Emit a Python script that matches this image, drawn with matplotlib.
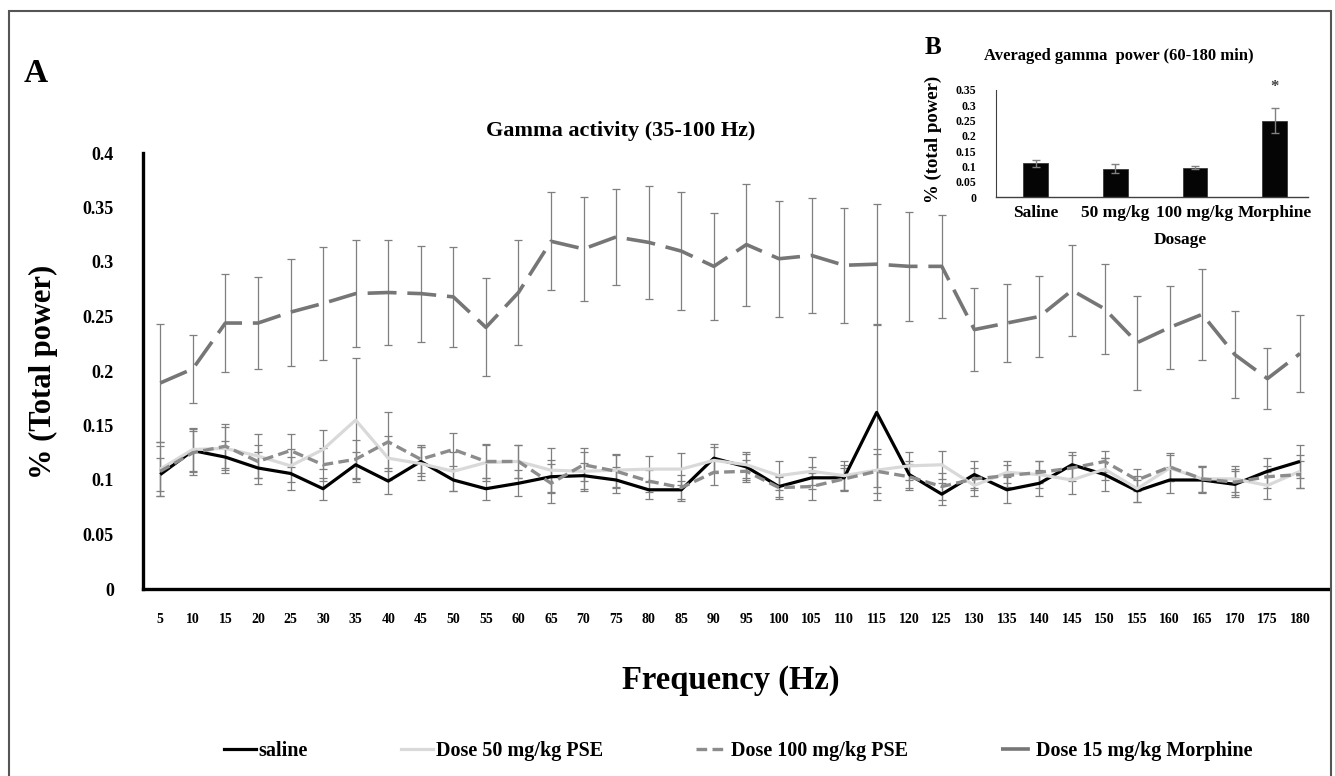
import numpy as np
import matplotlib
matplotlib.use("Agg")
import matplotlib.pyplot as plt
from matplotlib.patches import Rectangle
from matplotlib.lines import Line2D

plt.rcParams['font.family'] = ['Liberation Serif', 'DejaVu Serif']
plt.rcParams['font.weight'] = 'bold'

# gamma power per frequency bin, mean and SEM
freqs = list(range(5, 185, 5))

saline = [0.105, 0.127, 0.121, 0.111, 0.106, 0.092, 0.114, 0.099, 0.117, 0.100, 0.092, 0.097,
          0.103, 0.104, 0.100, 0.091, 0.091, 0.120, 0.112, 0.094, 0.102, 0.102, 0.162, 0.105,
          0.087, 0.105, 0.091, 0.097, 0.114, 0.105, 0.090, 0.100, 0.100, 0.096, 0.108, 0.117]
saline_err = [0.015, 0.020, 0.015, 0.015, 0.015, 0.010, 0.012, 0.012, 0.013, 0.010, 0.010, 0.012,
              0.015, 0.012, 0.012, 0.008, 0.008, 0.013, 0.012, 0.010, 0.010, 0.012, 0.080, 0.012,
              0.010, 0.012, 0.012, 0.012, 0.012, 0.015, 0.010, 0.012, 0.012, 0.012, 0.012, 0.015]

pse50 = [0.110, 0.128, 0.129, 0.122, 0.113, 0.128, 0.155, 0.120, 0.115, 0.108, 0.116, 0.117,
         0.109, 0.108, 0.109, 0.110, 0.110, 0.118, 0.114, 0.104, 0.108, 0.104, 0.109, 0.113,
         0.114, 0.095, 0.107, 0.105, 0.100, 0.110, 0.092, 0.111, 0.101, 0.101, 0.095, 0.108]
pse50_err = [0.025, 0.020, 0.020, 0.020, 0.015, 0.018, 0.057, 0.020, 0.015, 0.018, 0.017, 0.015,
             0.020, 0.018, 0.015, 0.012, 0.015, 0.012, 0.012, 0.013, 0.013, 0.013, 0.015, 0.013,
             0.013, 0.010, 0.010, 0.012, 0.013, 0.010, 0.012, 0.012, 0.012, 0.012, 0.012, 0.015]

pse100 = [0.108, 0.125, 0.131, 0.117, 0.127, 0.114, 0.119, 0.135, 0.119, 0.128, 0.117, 0.117,
          0.097, 0.114, 0.108, 0.099, 0.093, 0.107, 0.108, 0.093, 0.094, 0.101, 0.108, 0.103,
          0.094, 0.101, 0.104, 0.107, 0.111, 0.117, 0.100, 0.112, 0.101, 0.098, 0.103, 0.105]
pse100_err = [0.023, 0.020, 0.020, 0.015, 0.015, 0.015, 0.018, 0.027, 0.013, 0.015, 0.015, 0.015,
              0.018, 0.015, 0.015, 0.010, 0.012, 0.012, 0.010, 0.010, 0.012, 0.010, 0.020, 0.012,
              0.012, 0.010, 0.010, 0.010, 0.012, 0.010, 0.010, 0.013, 0.012, 0.012, 0.010, 0.012]

morphine = [0.189, 0.202, 0.244, 0.244, 0.254, 0.262, 0.271, 0.272, 0.271, 0.268, 0.240, 0.272,
            0.319, 0.312, 0.323, 0.318, 0.310, 0.296, 0.316, 0.303, 0.306, 0.297, 0.298, 0.296,
            0.296, 0.238, 0.244, 0.250, 0.274, 0.257, 0.226, 0.240, 0.252, 0.215, 0.193, 0.216]
morphine_err = [0.054, 0.031, 0.045, 0.042, 0.049, 0.052, 0.049, 0.048, 0.044, 0.046, 0.045, 0.048,
                0.045, 0.048, 0.044, 0.052, 0.054, 0.049, 0.056, 0.053, 0.053, 0.053, 0.055, 0.050,
                0.047, 0.038, 0.036, 0.037, 0.042, 0.041, 0.043, 0.038, 0.042, 0.040, 0.028, 0.035]

# averaged gamma power, 60-180 min
dosages = ['Saline', '50 mg/kg', '100 mg/kg', 'Morphine']
avg_power = [0.110, 0.092, 0.096, 0.250]
avg_err = [0.011, 0.015, 0.005, 0.042]

W, H = 1335, 776
fig = plt.figure(figsize=(W / 100, H / 100), dpi=100)
fig.patch.set_facecolor('white')


def fx(px):
    return px / W


def fy(py):
    return 1 - py / H


ax = fig.add_axes([fx(143), fy(589), fx(1328) - fx(143), fy(153) - fy(589)])
x = np.arange(len(freqs))
err_kw = dict(fmt='none', ecolor='#7f7f7f', elinewidth=0.9, capsize=3, capthick=0.9)

series = [
    (saline, saline_err, dict(color='black', lw=2.3, ls='-'), 'saline'),
    (pse50, pse50_err, dict(color='#d9d9d9', lw=2.3, ls='-'), 'Dose 50 mg/kg PSE'),
    (pse100, pse100_err, dict(color='#8c8c8c', lw=2.4, ls=(0, (3.2, 1.6))), 'Dose 100 mg/kg PSE'),
    (morphine, morphine_err, dict(color='#767676', lw=2.6, ls=(0, (8, 3))), 'Dose 15 mg/kg Morphine'),
]
handles = []
for vals, errs, style, name in series:
    ax.errorbar(x, vals, yerr=errs, zorder=2, **err_kw)
for vals, errs, style, name in series:
    ax.plot(x, vals, zorder=3, solid_capstyle='butt', dash_capstyle='butt', **style)
    handles.append(Line2D([], [], **style))

ax.set_xlim(-0.53, len(freqs) - 0.14)
ax.set_ylim(0, 0.4)
ax.set_yticks(np.arange(0, 0.401, 0.05))
ax.set_yticklabels(['0', '0.05', '0.1', '0.15', '0.2', '0.25', '0.3', '0.35', '0.4'])
ax.set_xticks(x)
ax.set_xticklabels([str(f) for f in freqs])
ax.tick_params(axis='y', length=0, pad=21, labelsize=13)
ax.tick_params(axis='x', length=0, pad=17, labelsize=10)
for side in ['top', 'right']:
    ax.spines[side].set_visible(False)
for side in ['left', 'bottom']:
    ax.spines[side].set_linewidth(2.4)
    ax.spines[side].set_color('black')
ax.patch.set_alpha(0)

fig.text(fx(24), fy(74), 'A', fontsize=24, ha='left', va='center')
fig.text(fx(621), fy(131), 'Gamma activity (35-100 Hz)', fontsize=16, ha='center', va='center')
fig.text(fx(43), fy(372), '% (Total power)', fontsize=22, rotation=90, ha='center', va='center')
fig.text(fx(731), fy(680), 'Frequency (Hz)', fontsize=23.5, ha='center', va='center')

fig.legend(handles, [s[3] for s in series], loc='center', bbox_to_anchor=(fx(738), fy(751)),
           ncol=4, frameon=False, fontsize=14.5, handlelength=1.6, handletextpad=0.15,
           columnspacing=4.6)

# inset: averaged gamma power per dosage
axb = fig.add_axes([fx(996), fy(197), fx(1308) - fx(996), fy(90) - fy(197)])
xb = np.arange(len(dosages))
axb.bar(xb, avg_power, width=0.31, color='#050505', edgecolor='#3a3a3a', linewidth=0.6, zorder=2)
axb.errorbar(xb, avg_power, yerr=avg_err, fmt='none', ecolor='#808080', elinewidth=1.0,
             capsize=3, capthick=1.0, zorder=3)
axb.text(xb[3], 0.36, '*', ha='center', va='center', fontsize=12, color='#404040')
axb.set_xlim(-0.5, 3.42)
axb.set_ylim(0, 0.35)
axb.set_yticks(np.arange(0, 0.351, 0.05))
axb.set_yticklabels(['0', '0.05', '0.1', '0.15', '0.2', '0.25', '0.3', '0.35'])
axb.set_xticks(xb)
axb.set_xticklabels(dosages)
axb.tick_params(axis='y', length=0, pad=14, labelsize=8.5)
axb.tick_params(axis='x', length=0, pad=6, labelsize=12.5)
for side in ['top', 'right']:
    axb.spines[side].set_visible(False)
axb.spines['left'].set_color('#404040')
axb.spines['left'].set_linewidth(0.8)
axb.spines['bottom'].set_color('#404040')
axb.spines['bottom'].set_linewidth(1.0)
axb.patch.set_alpha(0)

fig.text(fx(933), fy(47), 'B', fontsize=18, ha='center', va='center')
fig.text(fx(1119), fy(56), 'Averaged gamma  power (60-180 min)', fontsize=12, ha='center', va='center')
fig.text(fx(933), fy(139), '% (total power)', fontsize=13.5, rotation=90, ha='center', va='center')
fig.text(fx(1180), fy(240), 'Dosage', fontsize=12.5, ha='center', va='center')

fig.add_artist(Rectangle((fx(8.5), -0.02), fx(1331) - fx(8.5), fy(11) + 0.02,
                         transform=fig.transFigure, fill=False, edgecolor='#555555', lw=1.5))

fig.savefig('out.png', dpi=100)
